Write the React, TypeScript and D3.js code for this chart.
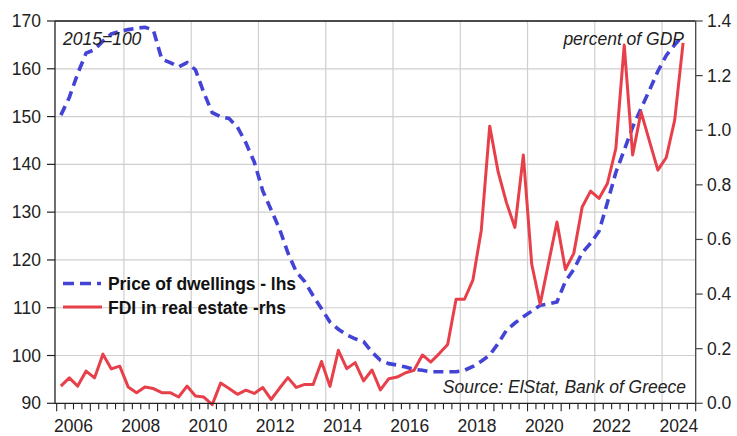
import React from 'react';
import * as d3 from 'd3';

const START_YEAR = 2006;

// Price of dwellings (2015=100), quarterly 2006Q1..2024Q3 - lhs
const dwellings = [
  150.3, 154, 159, 163.3, 164, 165.8, 167.3, 167.8, 168.2, 168.5,
  168.7, 168.1, 162, 161.3, 160.4, 161.3, 159.8, 155, 150.8, 150,
  149.6, 147.8, 144.5, 140.5, 134.5, 130.5, 126.5, 121.5, 117.5, 115.5,
  112.5, 109.8, 107, 105.5, 104.3, 103.5, 102.9, 100.7, 99, 98.3,
  98, 97.6, 97.1, 96.9, 96.6, 96.6, 96.6, 96.6, 96.9, 97.7,
  98.8, 100.1, 102.5, 105.3, 106.8, 108.1, 109.3, 110.5, 110.8, 111.2,
  115.5, 118, 121.5, 123.5, 126, 132, 138.3, 143, 147.8, 151.7,
  155.5, 159.5, 162.8, 165, 167,
];

// FDI in real estate (percent of GDP), quarterly 2006Q1..2024Q3 - rhs
const fdi = [
  0.063, 0.093, 0.063, 0.118, 0.093, 0.18, 0.126, 0.136, 0.06, 0.039,
  0.06, 0.054, 0.039, 0.039, 0.023, 0.063, 0.027, 0.023, -0.005, 0.074,
  0.054, 0.033, 0.048, 0.036, 0.058, 0.014, 0.055, 0.094, 0.058, 0.069,
  0.069, 0.153, 0.062, 0.194, 0.127, 0.149, 0.082, 0.122, 0.049, 0.09,
  0.096, 0.112, 0.121, 0.177, 0.151, 0.182, 0.215, 0.381, 0.381, 0.451,
  0.634, 1.015, 0.848, 0.734, 0.644, 0.909, 0.509, 0.363, 0.514, 0.664,
  0.49, 0.549, 0.719, 0.777, 0.75, 0.805, 0.933, 1.312, 0.909, 1.067,
  0.96, 0.854, 0.9, 1.037, 1.32,
];

const yearLabels = [2006, 2008, 2010, 2012, 2014, 2016, 2018, 2020, 2022, 2024];
const gridYears = [2008, 2010, 2012, 2014, 2016, 2018, 2020, 2022, 2024];
const leftTicks = [90, 100, 110, 120, 130, 140, 150, 160, 170];
const rightTicks = [0, 0.2, 0.4, 0.6, 0.8, 1.0, 1.2, 1.4];
const rightTickLabels = ['0.0', '0.2', '0.4', '0.6', '0.8', '1.0', '1.2', '1.4'];

const BLUE = '#4343d6';
const RED = '#e8404a';
const FONT = '"Liberation Sans", Arial, sans-serif';
const FS = 17.5;

export default function App() {
  const W = 737, H = 436;
  const left = 55, right = 695.7, top = 21, bottom = 403.3;
  const x = d3.scaleLinear().domain([2005.95, 2025]).range([left, right]);
  const yL = d3.scaleLinear().domain([90, 170]).range([bottom, top]);
  const yR = d3.scaleLinear().domain([0, 1.4]).range([bottom, top]);
  const t = (i: number) => START_YEAR + i / 4 + 0.125;

  const lineL = d3.line<number>().x((_, i) => x(t(i))).y((d) => yL(d));
  const lineR = d3.line<number>().x((_, i) => x(t(i))).y((d) => yR(d));

  const quarterTicks = d3.range(0, 19 * 4 + 1).map((q) => START_YEAR + q / 4);

  return (
    <svg width={W} height={H} style={{ position: 'absolute', left: 0, top: 0, background: '#fff' }}>
      <rect x={0} y={0} width={W} height={H} fill="#fff" />
      {/* grid */}
      {leftTicks.filter((v) => v > 90 && v < 170).map((v) => (
        <line key={'hg' + v} x1={left} x2={right} y1={yL(v)} y2={yL(v)} stroke="#cfcfcf" strokeWidth={1.2} />
      ))}
      {gridYears.map((yr) => (
        <line key={'vg' + yr} x1={x(yr)} x2={x(yr)} y1={top} y2={bottom} stroke="#cfcfcf" strokeWidth={1.2} />
      ))}

      {/* series */}
      <path d={lineL(dwellings) || ''} fill="none" stroke={BLUE} strokeWidth={3.6} strokeDasharray="10 6" />
      <path d={lineR(fdi) || ''} fill="none" stroke={RED} strokeWidth={3} strokeLinejoin="round" />

      {/* frame */}
      <line x1={left} x2={right} y1={top} y2={top} stroke="#111" strokeWidth={1.3} />
      <line x1={left} x2={left} y1={top} y2={bottom} stroke="#222" strokeWidth={1.3} />
      <line x1={right} x2={right} y1={top} y2={bottom} stroke="#444" strokeWidth={1.3} />
      <line x1={left} x2={right} y1={bottom} y2={bottom} stroke="#222" strokeWidth={1.3} />

      {/* left axis */}
      {leftTicks.map((v) => (
        <g key={'lt' + v}>
          <line x1={left - 8} x2={left} y1={yL(v)} y2={yL(v)} stroke="#222" strokeWidth={1.2} />
          <text x={41} y={yL(v) + 6} textAnchor="end" fontFamily={FONT} fontSize={FS} fill="#222">{v}</text>
        </g>
      ))}
      {/* right axis */}
      {rightTicks.map((v, i) => (
        <g key={'rt' + v}>
          <line x1={right} x2={right + 7} y1={yR(v)} y2={yR(v)} stroke="#444" strokeWidth={1.2} />
          <text x={707} y={yR(v) + 6} textAnchor="start" fontFamily={FONT} fontSize={FS} fill="#222">{rightTickLabels[i]}</text>
        </g>
      ))}
      {/* bottom axis */}
      {quarterTicks.map((q, i) => (
        <line key={'qt' + i} x1={x(q)} x2={x(q)} y1={bottom} y2={bottom + (i % 4 === 0 ? 8 : 6)} stroke="#222" strokeWidth={1.1} />
      ))}
      {yearLabels.map((yr) => (
        <text key={'yl' + yr} x={x(yr + 0.5)} y={432} textAnchor="middle" fontFamily={FONT} fontSize={FS} fill="#222">{yr}</text>
      ))}

      {/* annotations */}
      <text x={63} y={45} fontFamily={FONT} fontSize={FS} fontStyle="italic" fill="#222">2015=100</text>
      <text x={684} y={45} textAnchor="end" fontFamily={FONT} fontSize={FS} fontStyle="italic" fill="#222">percent of GDP</text>
      <text x={686} y={393} textAnchor="end" fontFamily={FONT} fontSize={FS} fontStyle="italic" fill="#222">Source: ElStat, Bank of Greece</text>

      {/* legend */}
      <line x1={63} x2={101} y1={283.5} y2={283.5} stroke={BLUE} strokeWidth={3.6} strokeDasharray="11 6" />
      <text x={108} y={290} fontFamily={FONT} fontSize={FS} fontWeight="bold" fill="#111" textLength={188} lengthAdjust="spacing">Price of dwellings - lhs</text>
      <line x1={63} x2={102} y1={307} y2={307} stroke={RED} strokeWidth={3} />
      <text x={108} y={313.5} fontFamily={FONT} fontSize={FS} fontWeight="bold" fill="#111">FDI in real estate -rhs</text>
    </svg>
  );
}
